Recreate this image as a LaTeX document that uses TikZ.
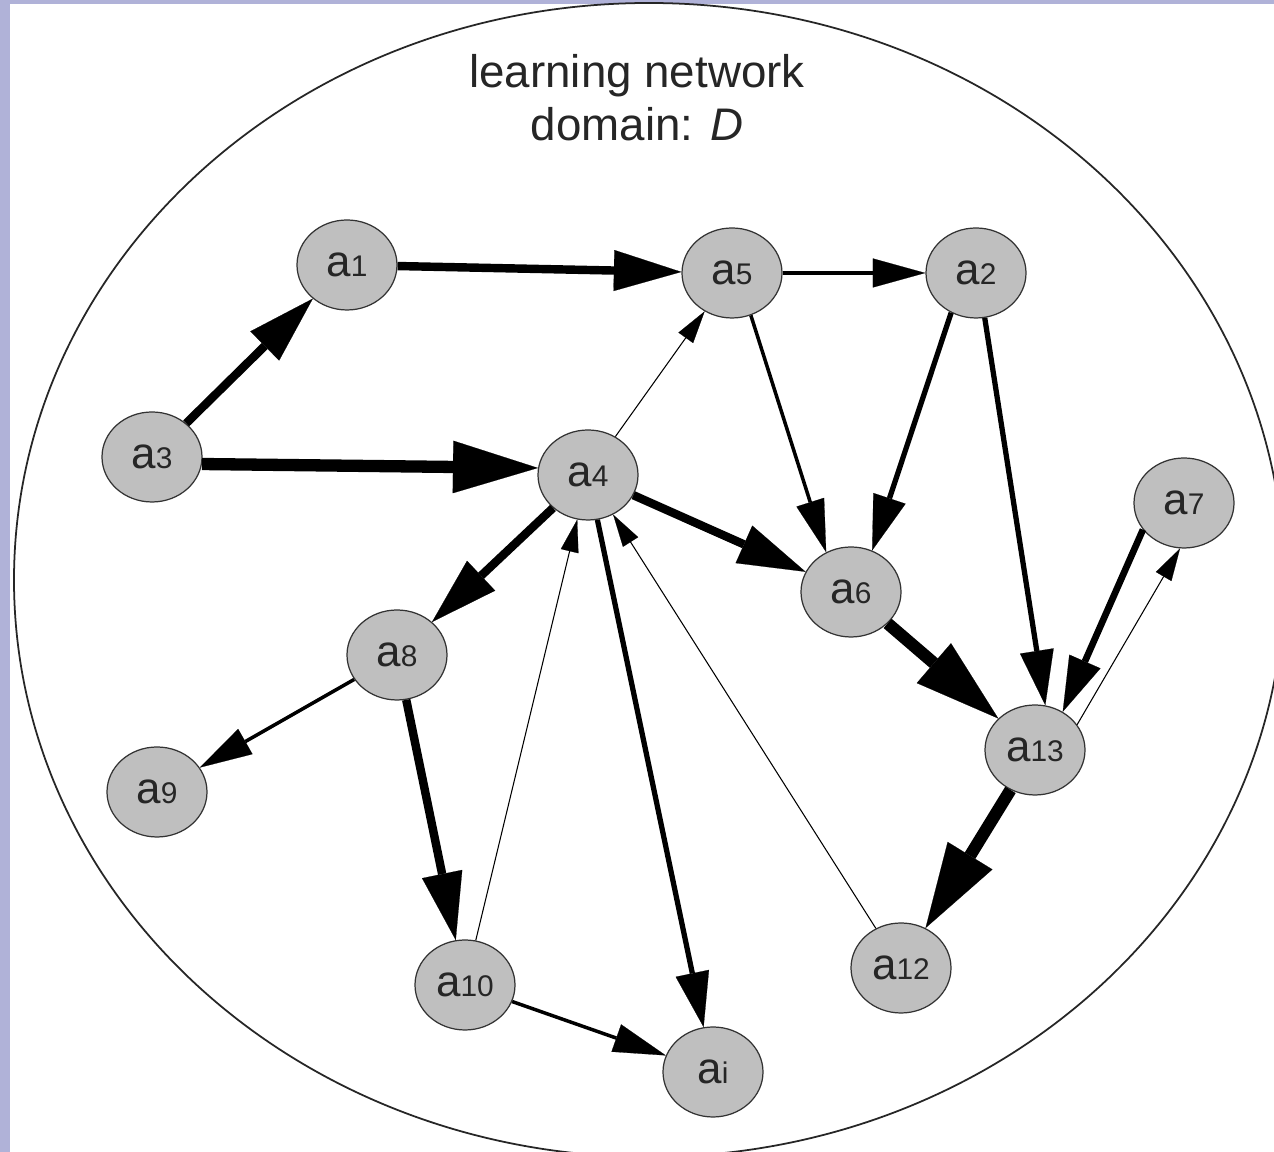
\documentclass[tikz,border=0pt]{standalone}
\usepackage{fontspec}
\setmainfont{Liberation Sans}
\usetikzlibrary{arrows.meta,shapes.geometric}
\definecolor{slidebg}{RGB}{176,178,216}
\newcommand{\agentlbl}[1]{{\fontsize{25}{25}\selectfont a}{\fontsize{17}{17}\selectfont #1}}

\begin{document}
\begin{tikzpicture}[
  agent/.style={ellipse, draw=black!80, fill=gray!50, line width=0.7pt,
                minimum width=2cm, minimum height=1.8cm, inner sep=0pt, text=black!85},
  domainb/.style={ellipse, draw=black!85, line width=1pt,
                minimum width=25.4cm, minimum height=23.08cm},
  thinar/.style={line width=0.6pt, -{Triangle[length=6.5mm,width=3.6mm,line width=0.1pt]}},
  medar/.style={line width=2pt, -{Triangle[length=10.5mm,width=5.8mm,line width=0.1pt]}},
  heavyar/.style={line width=3pt, -{Triangle[length=11mm,width=6.8mm,line width=0.1pt]}},
  boldar/.style={line width=4.8pt, -{Triangle[length=13.5mm,width=8.2mm,line width=0.1pt]}},
  hugear/.style={line width=7pt, -{Triangle[length=17mm,width=10.5mm,line width=0.1pt]}},
]
  \useasboundingbox (0,0) rectangle (25.48,23.04);
  \fill[slidebg] (0,0) rectangle (25.48,23.04);
  \fill[white] (0.2,0) rectangle (25.48,22.96);
  % domain
  \node[domainb] (domain) at (12.98,11.44) {};
  \node[font=\fontsize{26}{30}\selectfont, text=black!85, align=center] (title) at (12.74,21.08)
     {learning network\\ domain: \textit{D}};
  % agents
  \node[agent] (a1) at (6.94,17.74) {\agentlbl{1}};
  \node[agent] (a5) at (14.64,17.58) {\agentlbl{5}};
  \node[agent] (a2) at (19.52,17.58) {\agentlbl{2}};
  \node[agent] (a3) at (3.04,13.90) {\agentlbl{3}};
  \node[agent] (a4) at (11.76,13.54) {\agentlbl{4}};
  \node[agent] (a7) at (23.68,12.98) {\agentlbl{7}};
  \node[agent] (a6) at (17.02,11.20) {\agentlbl{6}};
  \node[agent] (a8) at (7.94,9.94) {\agentlbl{8}};
  \node[agent] (a13) at (20.70,8.04) {\agentlbl{13}};
  \node[agent] (a9) at (3.14,7.20) {\agentlbl{9}};
  \node[agent] (a10) at (9.30,3.34) {\agentlbl{10}};
  \node[agent] (a12) at (18.02,3.68) {\agentlbl{12}};
  \node[agent] (ai) at (14.26,1.60) {\agentlbl{i}};
  % links
  \draw[boldar] (a3) -- (a1); \draw[boldar] (a1) -- (a5); \draw[medar] (a5) -- (a2);
  \draw[hugear] (a3.-8) -- (a4.172);
  \draw[thinar] (a4) -- (a5);
  \draw[medar] (a5.294) -- (a6.122);
  \draw[heavyar] (a2.238) -- (a6.63);
  \draw[heavyar] (a2.281) -- (a13.77);
  \draw[boldar] (a4) -- (a6); \draw[hugear] (a6) -- (a13);
  \draw[heavyar, line width=3.8pt] (a7.213) -- (a13.54);
  \draw[thinar] (a13.31) -- (a7.265);
  \draw[boldar] (a4) -- (a8); \draw[medar] (a8) -- (a9); \draw[boldar] (a8) -- (a10);
  \draw[thinar] (a10) -- (a4);
  \draw[heavyar] (a4) -- (ai);
  \draw[thinar] (a12) -- (a4);
  \draw[hugear] (a13) -- (a12);
  \draw[medar] (a10) -- (ai);
\end{tikzpicture}
\end{document}
